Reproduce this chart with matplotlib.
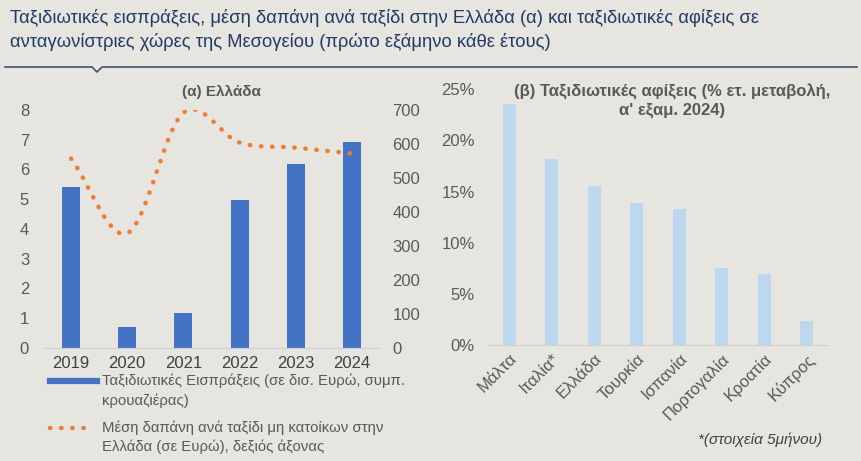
import matplotlib.pyplot as plt
import numpy as np
from matplotlib.lines import Line2D

# data
years = ["2019", "2020", "2021", "2022", "2023", "2024"]
receipts = [5.40, 0.71, 1.17, 4.97, 6.17, 6.92]
spend_per_trip = [557, 337, 692, 604, 589, 572]

countries = ["Μάλτα", "Ιταλία*", "Ελλάδα", "Τουρκία", "Ισπανία",
             "Πορτογαλία", "Κροατία", "Κύπρος"]
arrivals_change = [23.5, 18.2, 15.5, 13.9, 13.3, 7.5, 7.0, 2.4]

BG = "#E6E5E0"
TXT = "#595959"
NAVY = "#1F3B66"
BLUE = "#4472C4"
LIGHT = "#BDD7EE"
ORANGE = "#ED7D31"

plt.rcParams['font.family'] = ['Liberation Sans', 'DejaVu Sans']

W, H = 862, 461
fig = plt.figure(figsize=(W / 100, H / 100), dpi=100, facecolor=BG)


def fx(px):
    return px / W


def fy(py):
    return 1 - py / H


def smooth(xs, ys, n=40):
    # Catmull-Rom curve through the points (Excel-style smoothed line)
    xs = np.asarray(xs, float)
    ys = np.asarray(ys, float)
    px = np.concatenate([[2 * xs[0] - xs[1]], xs, [2 * xs[-1] - xs[-2]]])
    py = np.concatenate([[2 * ys[0] - ys[1]], ys, [2 * ys[-1] - ys[-2]]])
    outx, outy = [], []
    t = np.linspace(0, 1, n)
    for i in range(1, len(px) - 2):
        for arr, out in ((px, outx), (py, outy)):
            p0, p1, p2, p3 = arr[i - 1], arr[i], arr[i + 1], arr[i + 2]
            c1 = p1 + (p2 - p0) / 6
            c2 = p2 - (p3 - p1) / 6
            out.extend((1 - t) ** 3 * p1 + 3 * (1 - t) ** 2 * t * c1
                       + 3 * (1 - t) * t ** 2 * c2 + t ** 3 * p2)
    return outx, outy


# header
fig.text(fx(10), fy(18), "Ταξιδιωτικές εισπράξεις, μέση δαπάνη ανά ταξίδι στην Ελλάδα (α) και ταξιδιωτικές αφίξεις σε",
         color=NAVY, fontsize=13.2, va="center", ha="left")
fig.text(fx(10), fy(42), "ανταγωνίστριες χώρες της Μεσογείου (πρώτο εξάμηνο κάθε έτους)",
         color=NAVY, fontsize=13.2, va="center", ha="left")
fig.add_artist(Line2D([fx(5), fx(92), fx(97), fx(102), fx(857)],
                      [fy(67), fy(67), fy(72), fy(67), fy(67)],
                      color="#3F5273", lw=1.2))

# (a) Greece
ax1 = fig.add_axes([fx(43), fy(347.7), fx(380) - fx(43), fy(110) - fy(347.7)])
ax1.set_facecolor(BG)
x = np.arange(len(years))
ax1.bar(x, receipts, width=0.32, color=BLUE, zorder=2)
ax1.set_xlim(-0.5, len(years) - 0.5)
ax1.set_ylim(0, 8)
ax1.set_yticks(range(0, 9))
ax1.set_xticks(x)
ax1.set_xticklabels(years)
ax2 = ax1.twinx()
sx, sy = smooth(x, spend_per_trip)
ax2.plot(sx, sy, color=ORANGE, lw=3.2, linestyle=(0, (0.1, 2.4)),
         dash_capstyle="round", zorder=3)
ax2.set_ylim(0, 700)
ax2.set_yticks(range(0, 701, 100))
for a in (ax1, ax2):
    for s in a.spines.values():
        s.set_visible(False)
    a.tick_params(length=0, labelsize=12, colors=TXT)
ax1.spines["bottom"].set_visible(True)
ax1.spines["bottom"].set_color("#D0D0D0")
ax1.tick_params(axis="y", pad=10)
ax2.tick_params(axis="y", pad=9)
ax1.tick_params(axis="x", pad=6, colors="#404040")
fig.text(fx(221), fy(92), "(α) Ελλάδα", color=TXT, fontsize=11, fontweight="bold",
         ha="center", va="center")

# legend (a)
LEG = 10.7
fig.add_artist(Line2D([fx(50), fx(97)], [fy(381), fy(381)], color=BLUE, lw=4.5))
fig.text(fx(102), fy(381), "Ταξιδιωτικές Εισπράξεις (σε δισ. Ευρώ, συμπ.", color=TXT,
         fontsize=LEG, va="center", ha="left")
fig.text(fx(102), fy(401), "κρουαζιέρας)", color=TXT, fontsize=LEG, va="center", ha="left")
fig.add_artist(Line2D([fx(50), fx(93)], [fy(428), fy(428)], color=ORANGE, lw=3.2,
                      linestyle=(0, (0.1, 2.4)), dash_capstyle="round"))
fig.text(fx(102), fy(428), "Μέση δαπάνη ανά ταξίδι μη κατοίκων στην", color=TXT,
         fontsize=LEG, va="center", ha="left")
fig.text(fx(102), fy(447), "Ελλάδα (σε Ευρώ), δεξιός άξονας", color=TXT, fontsize=LEG,
         va="center", ha="left")

# (b) arrivals
ax3 = fig.add_axes([fx(488), fy(345.3), fx(828) - fx(488), fy(89) - fy(345.3)])
ax3.set_facecolor(BG)
xc = np.arange(len(countries))
ax3.bar(xc, arrivals_change, width=0.31, color=LIGHT, zorder=2)
ax3.set_xlim(-0.5, len(countries) - 0.5)
ax3.set_ylim(0, 25)
ax3.set_yticks(range(0, 26, 5))
ax3.set_yticklabels([f"{v}%" for v in range(0, 26, 5)])
ax3.set_xticks(xc)
ax3.set_xticklabels(countries, rotation=45, ha="right", rotation_mode="anchor")
for s in ax3.spines.values():
    s.set_visible(False)
ax3.spines["bottom"].set_visible(True)
ax3.spines["bottom"].set_color("#D0D0D0")
ax3.tick_params(length=0, labelsize=12, colors=TXT)
ax3.tick_params(axis="y", pad=9.5)
ax3.tick_params(axis="x", pad=4)
fig.text(fx(672), fy(101), "(β) Ταξιδιωτικές αφίξεις (% ετ. μεταβολή,\nα' εξαμ. 2024)",
         color=TXT, fontsize=12, fontweight="bold", ha="center", va="center",
         linespacing=1.15)
fig.text(fx(822), fy(440), "*(στοιχεία 5μήνου)", color="#404040", fontsize=11,
         style="italic", ha="right", va="center")

fig.savefig("out.png", dpi=100, facecolor=BG)
